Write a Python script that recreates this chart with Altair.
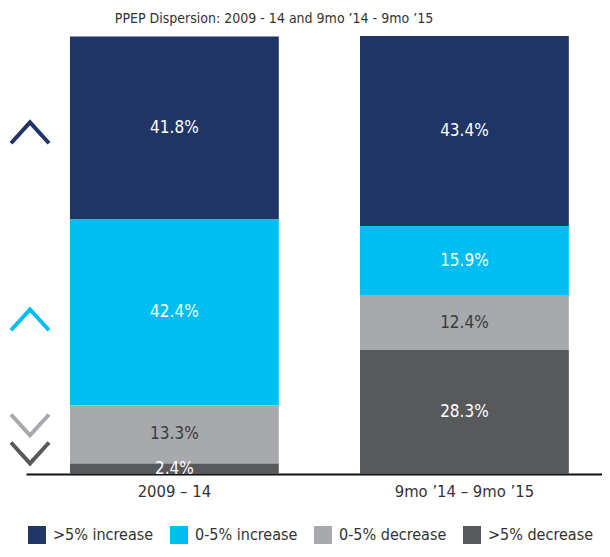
import altair as alt
import pandas as pd

# ---- data ----
periods = ["2009 – 14", "9mo ’14 – 9mo ’15"]
categories = [">5% increase", "0-5% increase", "0-5% decrease", ">5% decrease"]
colors = ["#1f3566", "#00bdf2", "#a7a9ac", "#58595b"]
label_colors = ["#ffffff", "#ffffff", "#3a3a3c", "#ffffff"]
values_2009_14 = [41.8, 42.4, 13.3, 2.4]
values_9mo_14_15 = [43.4, 15.9, 12.4, 28.3]
stack_rank = [3, 2, 1, 0]  # 0 = bottom of stack
# decorative chevrons (value-axis position, direction)
chevron_pos = [77.9, 35.2, 11.2, 4.8]
chevron_dir = ["up", "up", "down", "down"]

title_text = "PPEP Dispersion: 2009 - 14 and 9mo ’14 - 9mo ’15"
FONT = "DejaVu Sans Condensed, Roboto, sans-serif"

rows = []
for p, vals in zip(periods, [values_2009_14, values_9mo_14_15]):
    for c, v, r, lc in zip(categories, vals, stack_rank, label_colors):
        rows.append({"period": p, "category": c, "value": v, "rank": r,
                     "label": f"{v:.1f}%", "lcolor": lc})
df = pd.DataFrame(rows)

chev = pd.DataFrame({"pos": chevron_pos, "dir": chevron_dir, "col": colors})

x_enc = alt.X("period:N", sort=periods, title=None,
              scale=alt.Scale(paddingInner=0.28, paddingOuter=0.133, align=0.57),
              axis=alt.Axis(labelAngle=0, ticks=False, domainColor="#111111",
                            domainWidth=2, labelFontSize=16.5, labelPadding=9,
                            labelColor="#333333", labelFont=FONT))
y_scale = alt.Scale(domain=[0, 100], nice=False, zero=True)

base = alt.Chart(df).transform_stack(
    stack="value", groupby=["period"], as_=["y0", "y1"],
    sort=[alt.SortField("rank", order="ascending")]
).transform_calculate(mid="(datum.y0 + datum.y1) / 2")

bars = base.mark_bar().encode(
    x=x_enc,
    y=alt.Y("y0:Q", scale=y_scale, axis=None),
    y2="y1:Q",
    color=alt.Color("category:N",
                    scale=alt.Scale(domain=categories, range=colors),
                    legend=alt.Legend(title=None, orient="none", direction="horizontal",
                                      legendX=2, legendY=490,
                                      symbolType="square", symbolSize=324,
                                      symbolStrokeWidth=0, labelFontSize=16,
                                      labelFont=FONT, labelColor="#333333",
                                      labelOffset=7, columnPadding=16,
                                      labelLimit=300)),
)

labels = base.mark_text(fontSize=17, font=FONT, baseline="middle").encode(
    x=alt.X("period:N", sort=periods),
    y=alt.Y("mid:Q", scale=y_scale, axis=None),
    text="label:N",
    color=alt.Color("lcolor:N", scale=None),
)

up_path = "M-1,0.55L0,-0.55L1,0.55"
down_path = "M-1,-0.55L0,0.55L1,-0.55"
chevrons = alt.Chart(chev).mark_point(filled=False, strokeWidth=4, size=1444,
                                      opacity=1).encode(
    x=alt.value(4),
    y=alt.Y("pos:Q", scale=y_scale, axis=None),
    shape=alt.Shape("dir:N", scale=alt.Scale(domain=["up", "down"],
                                             range=[up_path, down_path]),
                    legend=None),
    stroke=alt.Stroke("col:N", scale=None),
)

chart = alt.layer(bars, labels, chevrons).resolve_scale(
    color="independent"
).properties(
    width=576, height=438,
    autosize=alt.AutoSizeParams(type="none"),
    padding={"left": 18, "top": 28, "right": 0, "bottom": 70},
    title=alt.TitleParams(title_text, anchor="middle", frame="group", dx=-40,
                          dy=4, offset=0, baseline="bottom", fontSize=14,
                          font=FONT, fontWeight="normal", color="#333333"),
).configure_view(stroke=None)

chart.save("out.html", embed_options={"renderer": "svg", "actions": False})
